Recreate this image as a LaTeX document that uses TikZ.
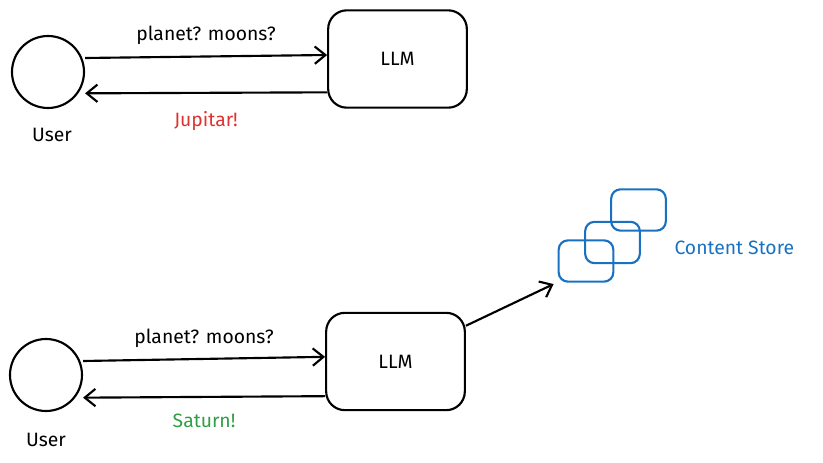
\documentclass[tikz,border=0pt]{standalone}
\usepackage{fontspec}
\setmainfont{Fira Sans}
\usetikzlibrary{arrows.meta,positioning}
\definecolor{askred}{HTML}{E03131}
\definecolor{askgreen}{HTML}{2F9E44}
\definecolor{storeblue}{HTML}{1971C2}
\tikzset{
    %Define standard arrow tip
    >={Straight Barb[length=8pt,width=13pt,line width=1.6pt]},
    %Define style for the user circles
    person/.style={
           circle,
           draw=black, line width=1.6pt,
           minimum size=54pt},
    %Define style for the model boxes
    model/.style={
           rectangle,
           rounded corners=14pt,
           draw=black, line width=1.6pt,
           minimum width=104pt,
           minimum height=73pt,
           font=\fontsize{14.5}{16}\selectfont},
    %Define style for the store boxes
    store/.style={
           rectangle,
           rounded corners=7pt,
           draw=storeblue, line width=1.6pt,
           minimum width=41pt,
           minimum height=31pt},
    lbl/.style={font=\fontsize{14.5}{16}\selectfont, inner sep=1pt},
    % Define arrow style
    pil/.style={
           ->,
           line width=1.6pt}
}
\begin{document}
\begin{tikzpicture}[x=0.75pt,y=-0.75pt]
\useasboundingbox (0,0) rectangle (823,463);
% top exchange
\node[person](user1) at (48,72){};
\node[model](llm1) at (397.5,59){LLM};
\node[lbl] (name1) at (52,135){User};
\draw[pil] ([yshift=10.5pt]user1.east) -- node[lbl, above=7pt]{planet? moons?} ([yshift=3pt]llm1.west);
\draw[pil] ([yshift=-25pt]llm1.west) -- node[lbl, below=12pt, text=askred]{Jupitar!} ([yshift=-16pt]user1.east);
% bottom exchange
\node[person](user2) at (46,375){};
\node[model](llm2) at (395.5,361.5){LLM};
\node[lbl] (name2) at (46,440){User};
\draw[pil] ([yshift=10.5pt]user2.east) -- node[lbl, above=7pt]{planet? moons?} ([yshift=3.5pt]llm2.west);
\draw[pil] ([yshift=-26pt]llm2.west) -- node[lbl, below=11pt, text=askgreen]{Saturn!} ([yshift=-17pt]user2.east);
% content store
\node[store](box1) at (586,261){};
\node[store](box2) at (612.5,242.5){};
\node[store](box3) at (638.5,210){};
\node[lbl, text=storeblue, right=24pt of box2.east, anchor=west, yshift=-4pt](storename){Content Store};
\draw[pil] ([yshift=-10.5pt]llm2.north east) -- ([xshift=-3pt,yshift=-1pt]box1.south west);
\end{tikzpicture}
\end{document}
